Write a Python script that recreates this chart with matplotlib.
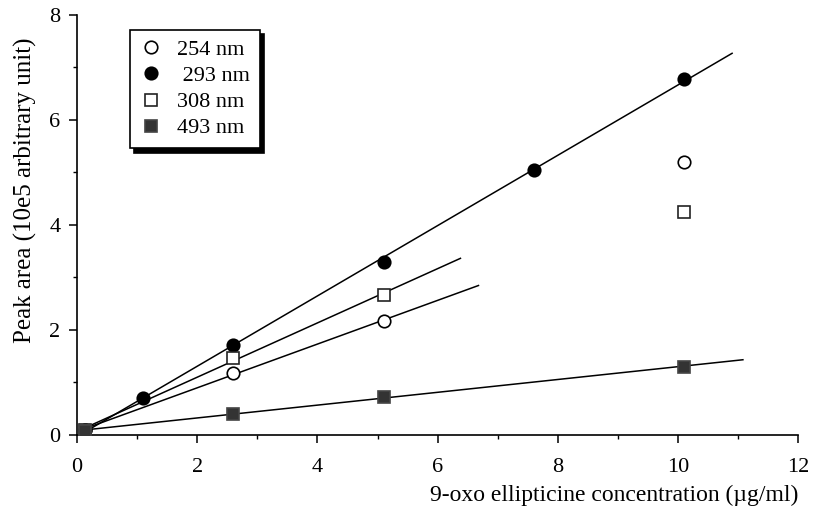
import numpy as np
import matplotlib
matplotlib.use("Agg")
import matplotlib.pyplot as plt
from matplotlib.ticker import MultipleLocator

plt.rcParams['font.family'] = ['Liberation Serif', 'DejaVu Serif']

# data (x in ug/ml, y in 10e5 arbitrary units)
x_254 = [0.13, 2.6, 5.1, 10.1]
y_254 = [0.10, 1.18, 2.17, 5.20]
x_293 = [0.13, 1.1, 2.6, 5.1, 7.6, 10.1]
y_293 = [0.10, 0.70, 1.71, 3.30, 5.05, 6.78]
x_308 = [0.13, 2.6, 5.1, 10.1]
y_308 = [0.10, 1.47, 2.67, 4.25]
x_493 = [0.13, 2.6, 5.1, 10.1]
y_493 = [0.08, 0.40, 0.72, 1.30]

# number of points used for each regression line, and how far it is drawn
n_fit = {'254': 3, '293': 6, '308': 3, '493': 4}
x_end = {'254': 6.68, '293': 10.9, '308': 6.38, '493': 11.08}

fig = plt.figure(figsize=(8.14, 5.14), dpi=100)
ax = fig.add_axes([0.0946, 0.154, 0.886, 0.817])

series = [
    ('254', x_254, y_254, dict(marker='o', mfc='white', mec='black'), '254 nm'),
    ('293', x_293, y_293, dict(marker='o', mfc='black', mec='black'), ' 293 nm'),
    ('308', x_308, y_308, dict(marker='s', mfc='white', mec='#222222'), '308 nm'),
    ('493', x_493, y_493, dict(marker='s', mfc='#333333', mec='#444444'), '493 nm'),
]

for key, xs, ys, style, label in series:
    n = n_fit[key]
    k, b = np.polyfit(xs[:n], ys[:n], 1)
    xx = np.array([xs[0], x_end[key]])
    ax.plot(xx, k * xx + b, color='black', lw=1.1, zorder=2)
    ax.plot(xs, ys, ls='none', ms=9 if style['marker'] == 'o' else 8,
            mew=1.2, label=label, zorder=3, **style)

ax.set_xlim(0, 12)
ax.set_ylim(0, 8)
ax.xaxis.set_major_locator(MultipleLocator(2))
ax.xaxis.set_minor_locator(MultipleLocator(1))
ax.yaxis.set_major_locator(MultipleLocator(2))
ax.yaxis.set_minor_locator(MultipleLocator(1))
ax.tick_params(which='major', direction='out', length=6, width=1.1, labelsize=16)
ax.tick_params(which='minor', direction='out', length=3, width=1.0)
ax.tick_params(axis='x', which='major', pad=11)
ax.tick_params(axis='y', which='major', pad=6)
ax.spines['top'].set_visible(False)
ax.spines['right'].set_visible(False)
ax.spines['left'].set_linewidth(1.2)
ax.spines['bottom'].set_linewidth(1.2)

ax.set_ylabel('Peak area (10e5 arbitrary unit)', fontsize=18)
ax.yaxis.set_label_coords(-0.056, 0.583)
ax.set_xlabel('9-oxo ellipticine concentration (\u00b5g/ml)', fontsize=17, loc='right',
              labelpad=5)

leg = ax.legend(loc='upper left', bbox_to_anchor=(0.073, 0.965), fontsize=16,
                frameon=True, fancybox=False, edgecolor='black', handletextpad=0.7,
                borderpad=0.45, labelspacing=0.25, handlelength=1.0, borderaxespad=0,
                shadow={'color': 'black', 'alpha': 1.0, 'ox': 3, 'oy': -3})
leg.get_frame().set_linewidth(1.2)

fig.savefig('out.png', dpi=100)
